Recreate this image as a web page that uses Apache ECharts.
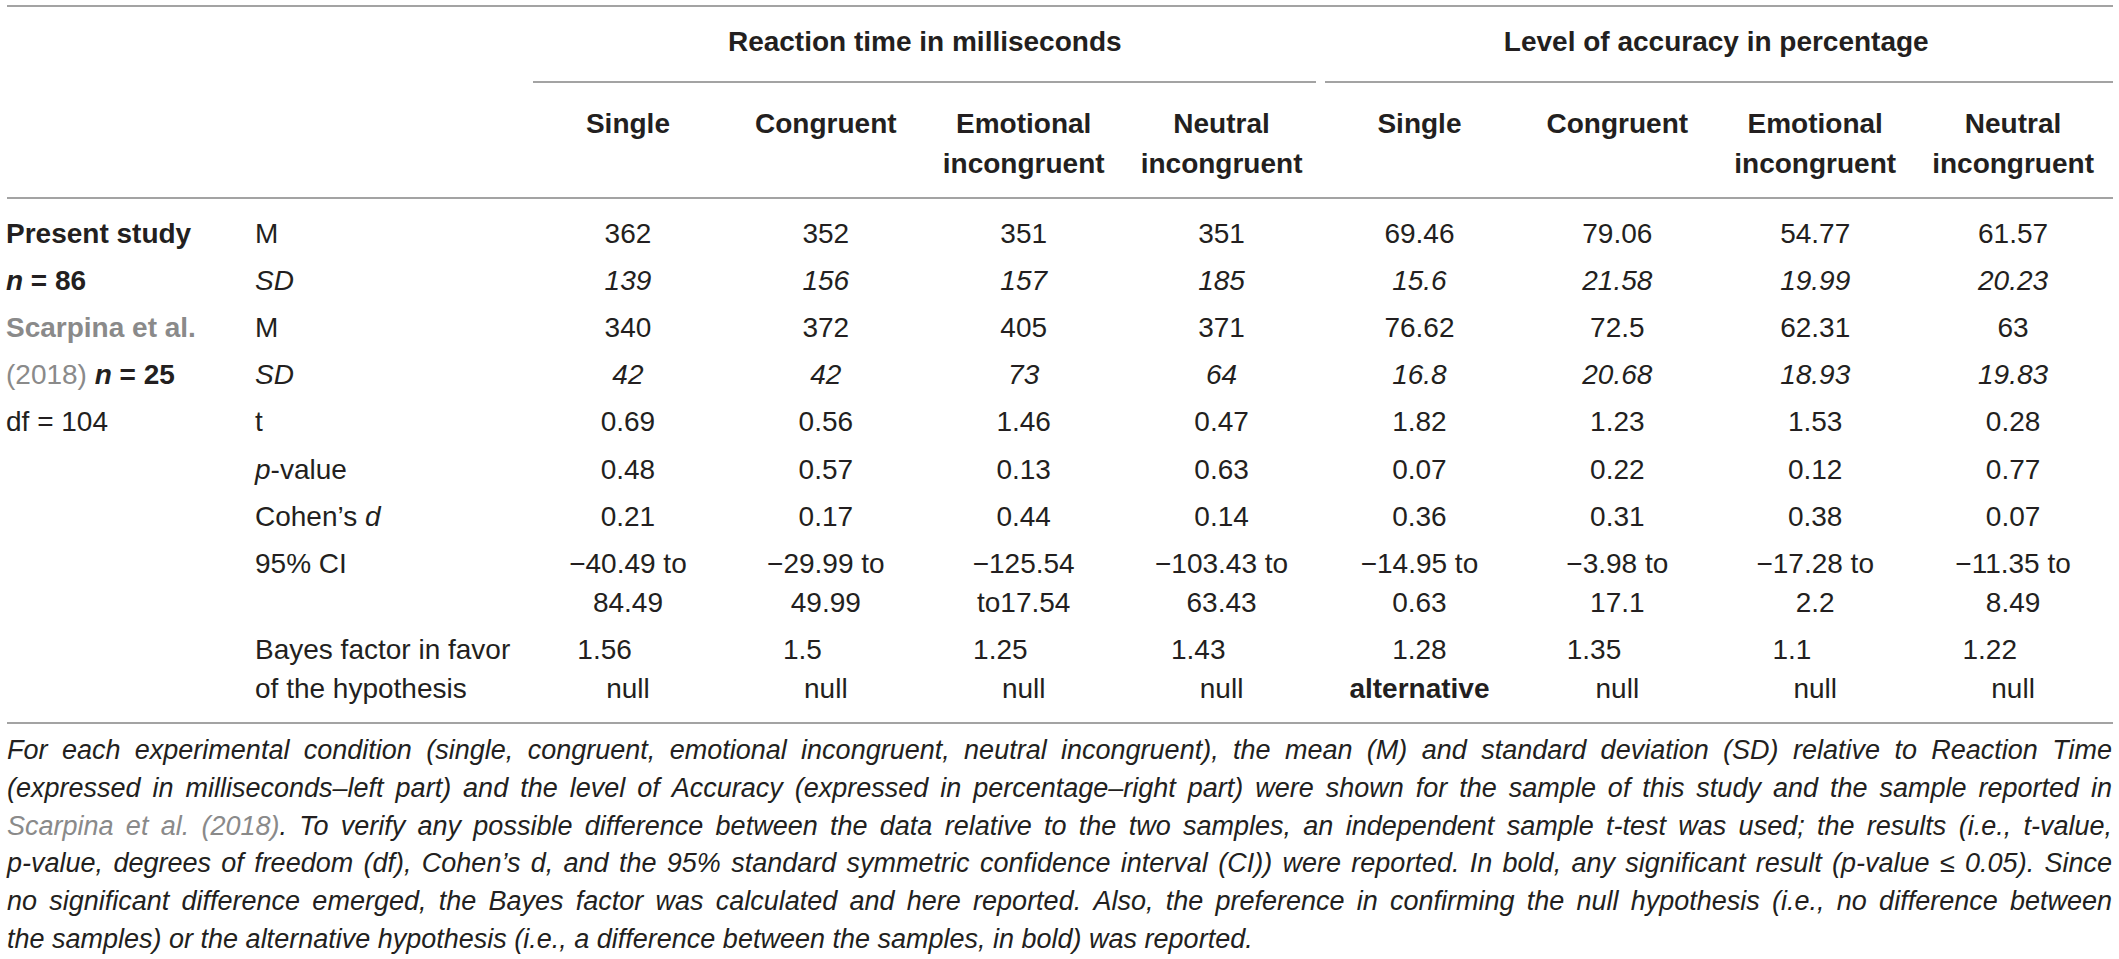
<!DOCTYPE html>
<html>
<head>
<meta charset="utf-8">
<title>Present study vs Scarpina et al. (2018)</title>
<script src="https://cdn.jsdelivr.net/npm/echarts@6/dist/echarts.min.js"></script>
<style>
  html, body { margin: 0; padding: 0; background: #fff; }
  #table { width: 2119px; height: 959px; }
</style>
</head>
<body>
<div id="table"></div>
<script>
// column headers
const conditions = ['Single', 'Congruent', 'Emotional\nincongruent', 'Neutral\nincongruent'];
const measures = ['Reaction time in milliseconds', 'Level of accuracy in percentage'];

// first 4 values = reaction time (ms), last 4 = accuracy (%)
const presentM = [362, 352, 351, 351, 69.46, 79.06, 54.77, 61.57];
const presentSD = [139, 156, 157, 185, 15.6, 21.58, 19.99, 20.23];
const scarpinaM = [340, 372, 405, 371, 76.62, 72.5, 62.31, 63];
const scarpinaSD = [42, 42, 73, 64, 16.8, 20.68, 18.93, 19.83];
const tValues = [0.69, 0.56, 1.46, 0.47, 1.82, 1.23, 1.53, 0.28];
const pValues = [0.48, 0.57, 0.13, 0.63, 0.07, 0.22, 0.12, 0.77];
const cohenD = [0.21, 0.17, 0.44, 0.14, 0.36, 0.31, 0.38, 0.07];
const ci95 = ['−40.49 to\n84.49', '−29.99 to\n49.99', '−125.54\nto17.54', '−103.43 to\n63.43',
              '−14.95 to\n0.63', '−3.98 to\n17.1', '−17.28 to\n2.2', '−11.35 to\n8.49'];
const bayesFactor = [1.56, 1.5, 1.25, 1.43, 1.28, 1.35, 1.1, 1.22];
const bayesFavor = ['null', 'null', 'null', 'null', 'alternative', 'null', 'null', 'null'];

// row labels
const sampleLabels = ['{b|Present study}', '{bi|n}{b| = 86}', '{gb|Scarpina et al.}', '{g|(2018) }{bi|n}{b| = 25}', 'df = 104'];
const statLabels = ['M', '{i|SD}', 'M', '{i|SD}', 't', '{i|p}-value', 'Cohen’s {i|d}', '95% CI', 'Bayes factor in favor\nof the hypothesis'];

const captionLines = [
  'For each experimental condition (single, congruent, emotional incongruent, neutral incongruent), the mean (M) and standard deviation (SD) relative to Reaction Time',
  '(expressed in milliseconds–left part) and the level of Accuracy (expressed in percentage–right part) were shown for the sample of this study and the sample reported in',
  '{g|Scarpina} {g|et} {g|al.} {g|(2018)}. To verify any possible difference between the data relative to the two samples, an independent sample t-test was used; the results (i.e., t-value,',
  'p-value, degrees of freedom (df), Cohen’s d, and the 95% standard symmetric confidence interval (CI)) were reported. In bold, any significant result (p-value ≤ 0.05). Since',
  'no significant difference emerged, the Bayes factor was calculated and here reported. Also, the preference in confirming the null hypothesis (i.e., no difference between',
  'the samples) or the alternative hypothesis (i.e., a difference between the samples, in bold) was reported.'
];

const FONT = '"Liberation Sans", Arial, sans-serif';
const INK = '#231f20';
const GRAY = '#8a8a8a';
const RULE = '#a3a3a3';
const SIZE = 28;
const CAP_SIZE = 27;
const ROW_PITCH = 47.2;
const LINE_PITCH = 39;

const tok = extra => Object.assign({ fontSize: SIZE, fontFamily: FONT, fill: INK, lineHeight: LINE_PITCH }, extra);
const RICH = {
  i: tok({ fontStyle: 'italic' }),
  b: tok({ fontWeight: 'bold' }),
  bi: tok({ fontWeight: 'bold', fontStyle: 'italic' }),
  g: tok({ fill: GRAY }),
  gb: tok({ fill: GRAY, fontWeight: 'bold' })
};

const italic = v => `{i|${v}}`;
const PAD = '\u00a0'.repeat(6);
const bodyRows = [
  presentM.map(String),
  presentSD.map(italic),
  scarpinaM.map(String),
  scarpinaSD.map(italic),
  tValues.map(String),
  pValues.map(String),
  cohenD.map(String),
  ci95,
  bayesFactor.map((bf, i) => bayesFavor[i] === 'alternative' ? `${bf}\n{b|${bayesFavor[i]}}` : `${bf}${PAD}\n${bayesFavor[i]}`)
];

// vertical position of each row (in px below the header rule)
const rowY = [];
let yy = 35;
bodyRows.forEach(r => {
  rowY.push(yy);
  const lines = Math.max(...r.map(t => t.split('\n').length));
  yy += ROW_PITCH + (lines - 1) * LINE_PITCH;
});

const bodyCells = [];
bodyRows.forEach((r, ri) => r.forEach((text, ci) => bodyCells.push({ col: ci, y: rowY[ri], text })));
const labelCells = [];
sampleLabels.forEach((text, ri) => labelCells.push({ col: 0, y: rowY[ri], text }));
statLabels.forEach((text, ri) => labelCells.push({ col: 1, y: rowY[ri], text }));

function cellRenderer(cells, align) {
  return function (params, api) {
    const cell = cells[params.dataIndex];
    const pt = api.coord([api.value(0), api.value(1)]);
    const band = api.size([1, 0])[0];
    return {
      type: 'text',
      x: align === 'left' ? pt[0] - band / 2 : pt[0],
      y: pt[1] - LINE_PITCH / 2,
      style: {
        text: cell.text, align: align, verticalAlign: 'top',
        fontSize: SIZE, fontFamily: FONT, fill: INK, lineHeight: LINE_PITCH, rich: RICH
      }
    };
  };
}

// caption, justified line by line
const measureCtx = document.createElement('canvas').getContext('2d');
measureCtx.font = `italic ${CAP_SIZE}px ${FONT}`;
const plain = s => s.replace(/\{\w+\|([^}]*)\}/g, '$1');
const capLeft = 7, capRight = 2112;
const captionGraphics = [];
captionLines.forEach((line, li) => {
  const words = line.split(' ');
  const widths = words.map(w => measureCtx.measureText(plain(w)).width);
  const total = widths.reduce((a, b) => a + b, 0);
  const last = li === captionLines.length - 1;
  const gap = last ? measureCtx.measureText(' ').width : (capRight - capLeft - total) / (words.length - 1);
  let x = capLeft;
  words.forEach((w, wi) => {
    captionGraphics.push({
      type: 'text', x: x, y: 750 + li * 37.8,
      style: {
        text: w, fontSize: CAP_SIZE, fontStyle: 'italic', fontFamily: FONT, fill: INK,
        verticalAlign: 'middle',
        rich: { g: { fontSize: CAP_SIZE, fontStyle: 'italic', fontFamily: FONT, fill: GRAY } }
      }
    });
    x += widths[wi] + gap;
  });
});

const rule = (x1, x2, y) => ({ type: 'line', shape: { x1, y1: y, x2, y2: y }, style: { stroke: RULE, lineWidth: 2 } });

const chart = echarts.init(document.getElementById('table'), null, { renderer: 'svg' });
chart.setOption({
  animation: false,
  backgroundColor: '#fff',
  grid: [
    { left: 529, right: 7, top: 198, height: 525, outerBoundsMode: 'none' },
    { left: 6, width: 498, top: 198, height: 525, outerBoundsMode: 'none' }
  ],
  xAxis: [
    {
      gridIndex: 0, type: 'category', position: 'top', data: conditions.concat(conditions),
      axisLine: { show: false }, axisTick: { show: false }, splitLine: { show: false },
      axisLabel: { interval: 0, margin: 95, verticalAlign: 'top', fontSize: SIZE, fontWeight: 'bold', fontFamily: FONT, color: INK, lineHeight: 40 }
    },
    {
      gridIndex: 0, type: 'category', position: 'top', offset: 116, data: measures,
      axisLine: { show: false }, axisTick: { show: false }, splitLine: { show: false },
      axisLabel: { interval: 0, margin: 21, fontSize: SIZE, fontWeight: 'bold', fontFamily: FONT, color: INK, lineHeight: 40 }
    },
    { gridIndex: 1, type: 'category', data: ['sample', 'statistic'], show: false }
  ],
  yAxis: [
    { gridIndex: 0, type: 'value', inverse: true, min: 0, max: 525, show: false },
    { gridIndex: 1, type: 'value', inverse: true, min: 0, max: 525, show: false }
  ],
  series: [
    {
      type: 'custom', name: 'values', xAxisIndex: 0, yAxisIndex: 0,
      data: bodyCells.map(c => [c.col, c.y]),
      renderItem: cellRenderer(bodyCells, 'center')
    },
    {
      type: 'custom', name: 'labels', xAxisIndex: 2, yAxisIndex: 1,
      data: labelCells.map(c => [c.col, c.y]),
      renderItem: cellRenderer(labelCells, 'left')
    }
  ],
  graphic: [
    rule(7, 2113, 6),
    rule(533, 1316, 82),
    rule(1325, 2113, 82),
    rule(7, 2113, 198),
    rule(7, 2113, 723)
  ].concat(captionGraphics)
});
</script>
</body>
</html>
